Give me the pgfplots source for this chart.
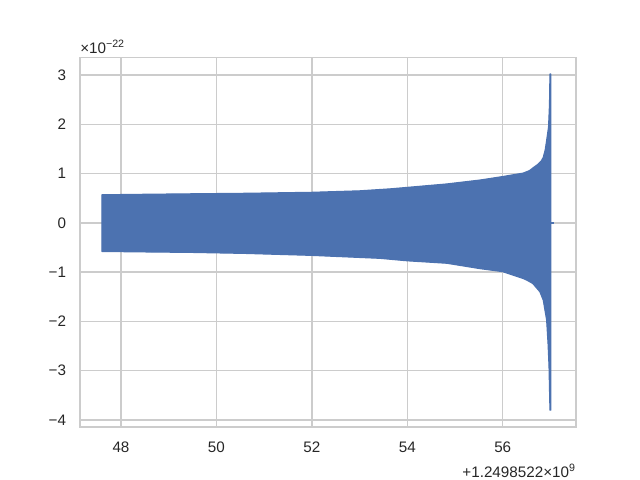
\documentclass[border=0pt]{standalone}
\usepackage{pgfplots}
\pgfplotsset{compat=1.18}
\usepackage{fontspec}
\setmainfont{Liberation Sans}
\definecolor{deepblue}{HTML}{4C72B0}
\definecolor{gridgray}{HTML}{CCCCCC}
\definecolor{textgray}{HTML}{262626}
\begin{document}
\begin{tikzpicture}[font=\fontsize{11}{13}\selectfont, text=textgray]
% figure is 6.4in x 4.8in, axis box as in matplotlib defaults
\path[use as bounding box] (-57.6bp,-38.016bp) rectangle (403.2bp,307.584bp);
\begin{axis}[
    at={(0,0)}, anchor=south west,
    scale only axis,
    width=357.12bp, height=266.11bp,
    xmin=47.141, xmax=57.536,
    ymin=-4.146, ymax=3.353,
    xtick={48,50,52,54,56},
    xticklabels={48,50,52,54,56},
    ytick={-4,-3,-2,-1,0,1,2,3},
    yticklabels={−4,−3,−2,−1,0,1,2,3},
    scaled ticks=false,
    major tick length=0pt,
    xticklabel style={yshift=-6.8bp},
    yticklabel style={xshift=-6.5bp},
    grid=major,
    grid style={gridgray, line width=1pt},
    axis line style={gridgray, line width=1.25pt},
    tick style={draw=none},
    clip mode=individual,
]
% envelope of the strain signal: upper edge, then lower edge back
\addplot[draw=deepblue, fill=deepblue, line width=0.8pt, line join=round] coordinates {
    (47.60,0.57)(48.5,0.58)(49.5,0.59)(50.6,0.60)(52.0,0.62)(53.0,0.65)
    (53.64,0.69)(54.0,0.72)(54.83,0.79)(55.53,0.87)(56.0,0.94)(56.43,1.01)
    (56.56,1.06)(56.64,1.12)(56.74,1.19)(56.81,1.26)(56.85,1.33)(56.89,1.48)
    (56.92,1.67)(56.96,1.94)(56.98,2.4)(56.99,3.02)(57.01,3.02)
    (57.01,-3.80)(56.99,-3.80)(56.97,-2.9)(56.95,-2.45)(56.92,-1.97)(56.85,-1.57)
    (56.78,-1.40)(56.63,-1.23)(56.50,-1.16)(56.43,-1.13)(56.0,-0.99)(55.53,-0.93)
    (54.83,-0.82)(54.0,-0.77)(53.43,-0.72)(52.0,-0.66)(50.6,-0.62)(49.5,-0.60)
    (48.5,-0.59)(47.60,-0.58)
} -- cycle;
% flat tail after merger
\addplot[draw=deepblue, line width=1.5pt] coordinates {(57.0,0)(57.07,0)};
\node[anchor=base west, inner sep=0pt] at (rel axis cs:0,1) [yshift=3.1bp] {×10\textsuperscript{−22}};
\node[anchor=base east, inner sep=0pt] at (rel axis cs:1,0) [yshift=-35.9bp] {+1.2498522×10\textsuperscript{9}};
\end{axis}
\end{tikzpicture}
\end{document}
